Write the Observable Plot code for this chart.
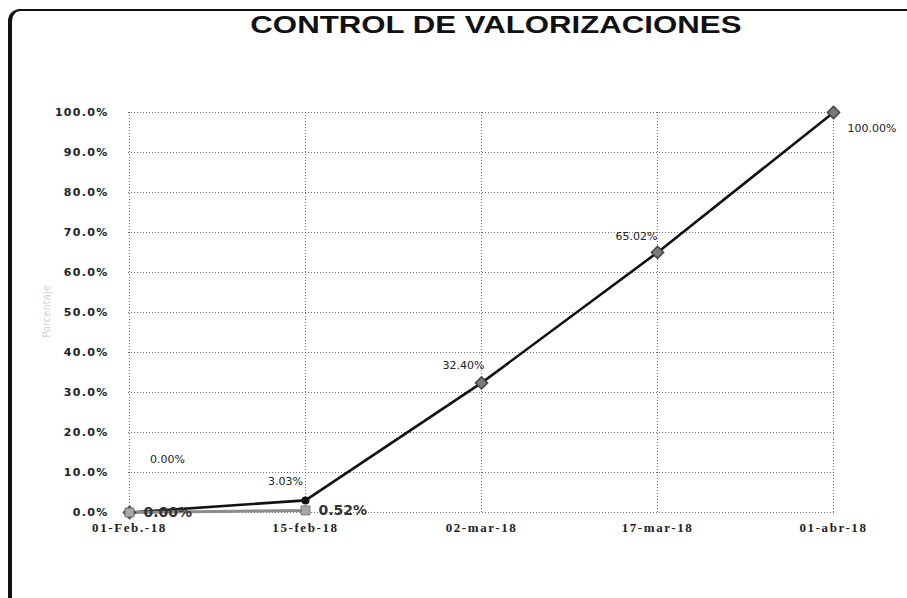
<!DOCTYPE html>
<html>
<head>
<meta charset="utf-8">
<script src="https://cdn.jsdelivr.net/npm/d3@7"></script>
<script src="https://cdn.jsdelivr.net/npm/@observablehq/plot@0.6"></script>
<style>
  html, body { margin: 0; padding: 0; background: #fff; overflow: hidden; }
  #wrap { position: relative; width: 907px; height: 598px; overflow: hidden; background: #fff; }
  #corner { position: absolute; left: 8px; top: 9px; width: 20px; height: 20px;
            border-left: 4px solid #111; border-top: 2px solid #111; border-top-left-radius: 12px; }
  #topline { position: absolute; left: 28px; top: 9px; width: 900px; height: 2px; background: #111; }
  #leftline { position: absolute; left: 8px; top: 31px; width: 4px; height: 600px; background: #111; }
  #title { position: absolute; left: 0; top: 13px; width: 992px; text-align: center;
           font: bold 24px "Liberation Sans", Arial, sans-serif; line-height: 24px; color: #111; }
  #title span { display: inline-block; transform: scaleX(1.3); }
  #ylab { position: absolute; left: 14px; top: 306px; width: 64px; text-align: center;
          transform: rotate(-90deg); font: 10px "DejaVu Sans", sans-serif; color: #d0d0d0; }
  #chart { position: absolute; left: 0; top: 0; }
  #chart [aria-label="y-axis tick label"] text { letter-spacing: 1.3px; }
  #chart [aria-label="x-axis tick label"] text { letter-spacing: 1.6px; }
  #chart [aria-label="etiqueta"] text { letter-spacing: 1.5px; }
  #chart [aria-label="etiqueta2"] text { letter-spacing: 0.6px; }
</style>
</head>
<body>
<div id="wrap">
  <div id="corner"></div>
  <div id="topline"></div>
  <div id="leftline"></div>
  <div id="chart"></div>
  <div id="title"><span>CONTROL DE VALORIZACIONES</span></div>
  <div id="ylab">Porcentaje</div>
</div>
<script>
const fechas = ["01-Feb.-18", "15-feb-18", "02-mar-18", "17-mar-18", "01-abr-18"];
const programado = [0, 3.03, 32.40, 65.02, 100];
const ejecutado = [0, 0.52];
const yTicks = [0, 10, 20, 30, 40, 50, 60, 70, 80, 90, 100];

const prog = fechas.map((f, i) => ({fecha: f, valor: programado[i], i}));
const ejec = ejecutado.map((v, i) => ({fecha: fechas[i], valor: v, i}));
const pct2 = d => d.valor.toFixed(2) + "%";

const lab = (i, dx, dy, anchor = "middle") =>
  Plot.text(prog.filter(d => d.i === i), {
    x: "fecha", y: "valor", text: pct2, dx, dy, textAnchor: anchor,
    fontSize: 11, fill: "#222", fontFamily: "DejaVu Sans", ariaLabel: "etiqueta"
  });
const lab2 = (i, dx) =>
  Plot.text(ejec.filter(d => d.i === i), {
    x: "fecha", y: "valor", text: pct2, dx, dy: 0, textAnchor: "start",
    fontSize: 14, fontWeight: "bold", fill: "#333", fontFamily: "DejaVu Sans", ariaLabel: "etiqueta2"
  });

const chart = Plot.plot({
  width: 907,
  height: 598,
  marginLeft: 128,
  marginRight: 73,
  marginTop: 112,
  marginBottom: 86,
  style: {background: "transparent", fontFamily: "DejaVu Sans", overflow: "visible"},
  x: {type: "point", domain: fechas, padding: 0, label: null},
  y: {domain: [0, 100], label: null},
  marks: [
    Plot.gridY(yTicks, {stroke: "#555", strokeOpacity: 0.85, strokeDasharray: "1,2", strokeWidth: 1}),
    Plot.gridX(fechas, {stroke: "#555", strokeOpacity: 0.85, strokeDasharray: "1,2", strokeWidth: 1}),
    Plot.axisY(yTicks, {
      tickSize: 0, tickPadding: 20, tickFormat: d => d.toFixed(1) + "%",
      fontSize: 11, fontWeight: "bold", fill: "#222", fontFamily: "DejaVu Sans", label: null
    }),
    Plot.axisX(fechas, {
      tickSize: 0, tickPadding: 10, fontSize: 13, fontWeight: "bold",
      fontFamily: "Liberation Serif", fill: "#222", label: null
    }),
    Plot.line(prog, {x: "fecha", y: "valor", stroke: "#111", strokeWidth: 2.6}),
    Plot.line(ejec, {x: "fecha", y: "valor", stroke: "#8c8c8c", strokeWidth: 3}),
    Plot.dot(prog.filter(d => d.i !== 1), {x: "fecha", y: "valor", symbol: "diamond2", r: 5.5, fill: "#7a7a7a", stroke: "#444", strokeWidth: 1.5}),
    Plot.dot(prog.filter(d => d.i === 1), {x: "fecha", y: "valor", symbol: "circle", r: 4, fill: "#111"}),
    Plot.dot(ejec, {x: "fecha", y: "valor", symbol: "square", r: 5, fill: "#a8a8a8", stroke: "#777", strokeWidth: 1}),
    lab(0, 38, -53),
    lab(1, -20, -19),
    lab(2, -18, -17),
    lab(3, -21, -16),
    lab(4, 14, 16, "start"),
    lab2(0, 14),
    lab2(1, 13)
  ]
});
document.getElementById("chart").appendChild(chart);
</script>
</body>
</html>
